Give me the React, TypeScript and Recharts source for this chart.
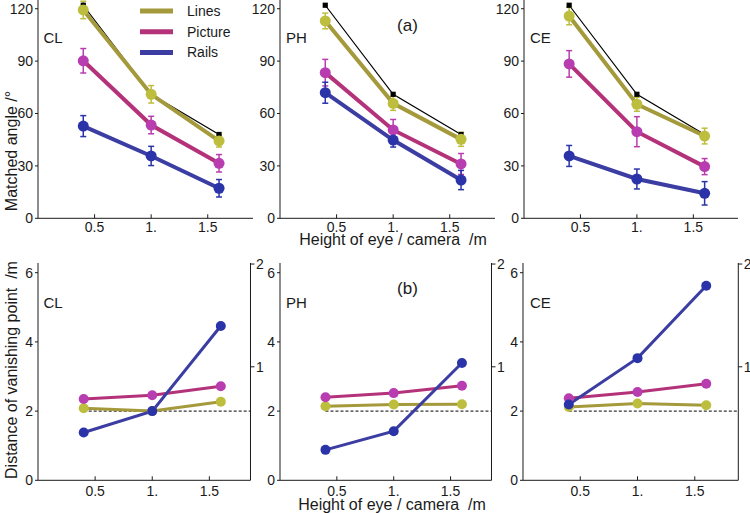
import React from 'react';
import { LineChart, Line, XAxis, YAxis, ErrorBar } from 'recharts';

// ---------- data ----------
const heights = [0.4, 1.0, 1.6];
const idealAngle = [122, 71, 48];

const clLinesAngle = [119.3, 71, 44.3];
const clLinesErr = [5, 5, 3.5];
const clPictureAngle = [90.2, 53.4, 31.5];
const clPictureErr = [7, 5, 5];
const clRailsAngle = [52.8, 35.7, 17.2];
const clRailsErr = [6, 5.5, 5];

const phLinesAngle = [113, 65.8, 45.2];
const phLinesErr = [4.5, 4, 4];
const phPictureAngle = [83.4, 50.6, 31.1];
const phPictureErr = [7.6, 6, 6];
const phRailsAngle = [71.9, 44.8, 21.9];
const phRailsErr = [6, 4, 5.5];

const ceLinesAngle = [115.8, 65.3, 47.1];
const ceLinesErr = [5, 4, 4.5];
const cePictureAngle = [88.4, 49.6, 29.6];
const cePictureErr = [7.6, 8.6, 4.6];
const ceRailsAngle = [35.7, 22.5, 14.3];
const ceRailsErr = [6, 5.7, 6.7];

const clLinesDist = [2.08, 2.0, 2.27];
const clPictureDist = [2.35, 2.46, 2.72];
const clRailsDist = [1.38, 2.0, 4.46];
const phLinesDist = [2.14, 2.19, 2.2];
const phPictureDist = [2.4, 2.52, 2.73];
const phRailsDist = [0.88, 1.42, 3.39];
const ceLinesDist = [2.12, 2.22, 2.17];
const cePictureDist = [2.37, 2.55, 2.79];
const ceRailsDist = [2.19, 3.53, 5.62];

const trueDistance = 2;
const angleTicks = [0, 30, 60, 90, 120];
const distTicks = [0, 2, 4, 6];
const xTicks = [0.5, 1, 1.5];
const xTickLabels = ['0.5', '1.', '1.5'];
const rightTicks = [3.28, 6.25];
const rightTickLabels = ['1', '2'];
const seriesNames = ['Lines', 'Picture', 'Rails'];

// ---------- style ----------
const axisColor = '#1a1a1a';
const textColor = '#1a1a1a';
const C = {
  linesLine: '#A49A3C', linesDot: '#BDBD3E',
  pictureLine: '#B3327A', pictureDot: '#B83DB0',
  railsLine: '#3B3DA2', railsDot: '#2A34A8',
};
const legendColors = [C.linesLine, C.pictureLine, C.railsLine];

function XTick(props: any) {
  const { x, y, payload, gap } = props;
  const axisY = y - gap;
  const i = xTicks.indexOf(payload.value);
  return (
    <g>
      <line x1={x} x2={x} y1={axisY} y2={axisY - 4} stroke={axisColor} strokeWidth={1} />
      <text x={x} y={y} dy="0.71em" textAnchor="middle" fontSize={14} fill={textColor}>
        {xTickLabels[i]}
      </text>
    </g>
  );
}

function SquareDot(props: any) {
  const { cx, cy } = props;
  if (cx == null || cy == null) return null;
  return <rect x={cx - 2.6} y={cy - 2.6} width={5.2} height={5.2} fill="#000" />;
}

function buildAngleRows(lines: number[], le: number[], pic: number[], pe: number[], rails: number[], re: number[]) {
  return heights.map((h, i) => ({
    h, ideal: idealAngle[i],
    lines: lines[i], linesErr: le[i],
    picture: pic[i], pictureErr: pe[i],
    rails: rails[i], railsErr: re[i],
  }));
}
function buildDistRows(lines: number[], pic: number[], rails: number[]) {
  return heights.map((h, i) => ({ h, lines: lines[i], picture: pic[i], rails: rails[i] }));
}

type PanelProps = {
  plotLeft: number; plotTop: number; plotW: number; plotH: number;
  xMax: number; yDomain: [number, number]; yTicks: number[];
  rows: any[]; top: boolean;
};

function Panel({ plotLeft, plotTop, plotW, plotH, xMax, yDomain, yTicks, rows, top }: PanelProps) {
  const mTop = 8;
  const leftW = 40;
  const rightW = top ? 0 : 22;
  const xH = 30;
  const gap = top ? 3.5 : 5.5;
  const lw = top ? 4 : 3;
  const r = top ? 5.5 : 5;
  const width = leftW + plotW + rightW;
  const height = mTop + plotH + xH;
  const series = [
    { key: 'lines', line: C.linesLine, dot: C.linesDot },
    { key: 'picture', line: C.pictureLine, dot: C.pictureDot },
    { key: 'rails', line: C.railsLine, dot: C.railsDot },
  ];
  const refRows = [{ h: heights[0], ref: trueDistance }, { h: xMax, ref: trueDistance }];
  return (
    <div style={{ position: 'absolute', left: plotLeft - leftW, top: plotTop - mTop }}>
      <LineChart width={width} height={height} data={rows} margin={{ top: mTop, right: 0, bottom: 0, left: 0 }}>
        <XAxis
          type="number" dataKey="h" domain={[0, xMax]} ticks={xTicks} interval={0}
          height={xH} tickLine={false} tickSize={0} tickMargin={gap}
          tick={<XTick gap={gap} />} axisLine={{ stroke: axisColor, strokeWidth: 1 }}
        />
        <YAxis
          yAxisId="l" type="number" domain={yDomain} ticks={yTicks} interval={0} width={leftW}
          tickSize={3} tickMargin={2} axisLine={{ stroke: axisColor, strokeWidth: 1 }}
          tickLine={{ stroke: axisColor }} tick={{ fontSize: 14, fill: textColor }}
        />
        {!top && (
          <YAxis
            yAxisId="r" orientation="right" type="number" domain={yDomain} ticks={rightTicks}
            interval={0} width={rightW} tickSize={4} tickMargin={1.5}
            tickFormatter={(v: number) => rightTickLabels[rightTicks.indexOf(v)]}
            axisLine={{ stroke: axisColor, strokeWidth: 1 }} tickLine={{ stroke: axisColor }}
            tick={{ fontSize: 14, fill: textColor }}
          />
        )}
        {!top && (
          <Line
            yAxisId="r" data={refRows} dataKey="ref" stroke="#000" strokeWidth={1}
            strokeDasharray="3 2" dot={false} activeDot={false} isAnimationActive={false}
          />
        )}
        {top && (
          <Line
            yAxisId="l" dataKey="ideal" stroke="#000" strokeWidth={1.2}
            dot={<SquareDot />} activeDot={false} isAnimationActive={false}
          />
        )}
        {series.map((s) => (
          <Line
            key={s.key} yAxisId="l" dataKey={s.key} stroke={s.line} strokeWidth={lw}
            dot={{ r, fill: s.dot, stroke: 'none' }} activeDot={false} isAnimationActive={false}
          >
            {top && (
              <ErrorBar
                dataKey={s.key + 'Err'} direction="y" width={3} stroke={s.dot} strokeWidth={1.5}
                isAnimationActive={false}
              />
            )}
          </Line>
        ))}
      </LineChart>
    </div>
  );
}

export default function App() {
  const topH = 218.3;
  const botTop = 263;
  const botH = 217.3;
  const topDomain: [number, number] = [0, 125];
  const botDomain: [number, number] = [0, 6.28];
  return (
    <div style={{ position: 'relative', width: 750, height: 513, overflow: 'hidden', background: '#fff', fontFamily: '"Liberation Sans", Arial, Helvetica, sans-serif' }}>
      <style>{'body{margin:0}'}</style>
      <Panel plotLeft={38} plotTop={0} plotW={215} plotH={topH} xMax={1.9} yDomain={topDomain} yTicks={angleTicks} top
        rows={buildAngleRows(clLinesAngle, clLinesErr, clPictureAngle, clPictureErr, clRailsAngle, clRailsErr)} />
      <Panel plotLeft={280} plotTop={0} plotW={215} plotH={topH} xMax={1.9} yDomain={topDomain} yTicks={angleTicks} top
        rows={buildAngleRows(phLinesAngle, phLinesErr, phPictureAngle, phPictureErr, phRailsAngle, phRailsErr)} />
      <Panel plotLeft={523.5} plotTop={0} plotW={214.5} plotH={topH} xMax={1.9} yDomain={topDomain} yTicks={angleTicks} top
        rows={buildAngleRows(ceLinesAngle, ceLinesErr, cePictureAngle, cePictureErr, ceRailsAngle, ceRailsErr)} />

      <Panel plotLeft={37.5} plotTop={botTop} plotW={212.5} plotH={botH} xMax={1.86} yDomain={botDomain} yTicks={distTicks} top={false}
        rows={buildDistRows(clLinesDist, clPictureDist, clRailsDist)} />
      <Panel plotLeft={279.5} plotTop={botTop} plotW={211.5} plotH={botH} xMax={1.86} yDomain={botDomain} yTicks={distTicks} top={false}
        rows={buildDistRows(phLinesDist, phPictureDist, phRailsDist)} />
      <Panel plotLeft={523} plotTop={botTop} plotW={215.3} plotH={botH} xMax={1.88} yDomain={botDomain} yTicks={distTicks} top={false}
        rows={buildDistRows(ceLinesDist, cePictureDist, ceRailsDist)} />

      <svg width={750} height={513} style={{ position: 'absolute', left: 0, top: 0, pointerEvents: 'none' }}>
        <g fill={textColor}>
          <text transform="translate(16.5,151) rotate(-90)" textAnchor="middle" fontSize={16}>Matched angle /°</text>
          <text transform="translate(16.5,370) rotate(-90)" textAnchor="middle" fontSize={16}>{'Distance of vanishing point \u00a0/m'}</text>
          <text x={393} y={245} textAnchor="middle" fontSize={16}>{'Height of eye / camera \u00a0/m'}</text>
          <text x={392} y={510} textAnchor="middle" fontSize={16}>{'Height of eye / camera \u00a0/m'}</text>
          <text x={407.5} y={31} textAnchor="middle" fontSize={17}>(a)</text>
          <text x={407.5} y={294} textAnchor="middle" fontSize={17}>(b)</text>
          <text x={43.5} y={43} fontSize={15}>CL</text>
          <text x={286} y={43} fontSize={15}>PH</text>
          <text x={530} y={43} fontSize={15}>CE</text>
          <text x={43.5} y={308} fontSize={15}>CL</text>
          <text x={286} y={308} fontSize={15}>PH</text>
          <text x={530} y={308} fontSize={15}>CE</text>
        </g>
        {seriesNames.map((n, i) => {
          const y = 11 + i * 20.7;
          return (
            <g key={n}>
              <line x1={140} x2={173} y1={y} y2={y} stroke={legendColors[i]} strokeWidth={5} />
              <text x={187} y={y + 5} fontSize={14} fill={textColor}>{n}</text>
            </g>
          );
        })}
      </svg>
    </div>
  );
}
